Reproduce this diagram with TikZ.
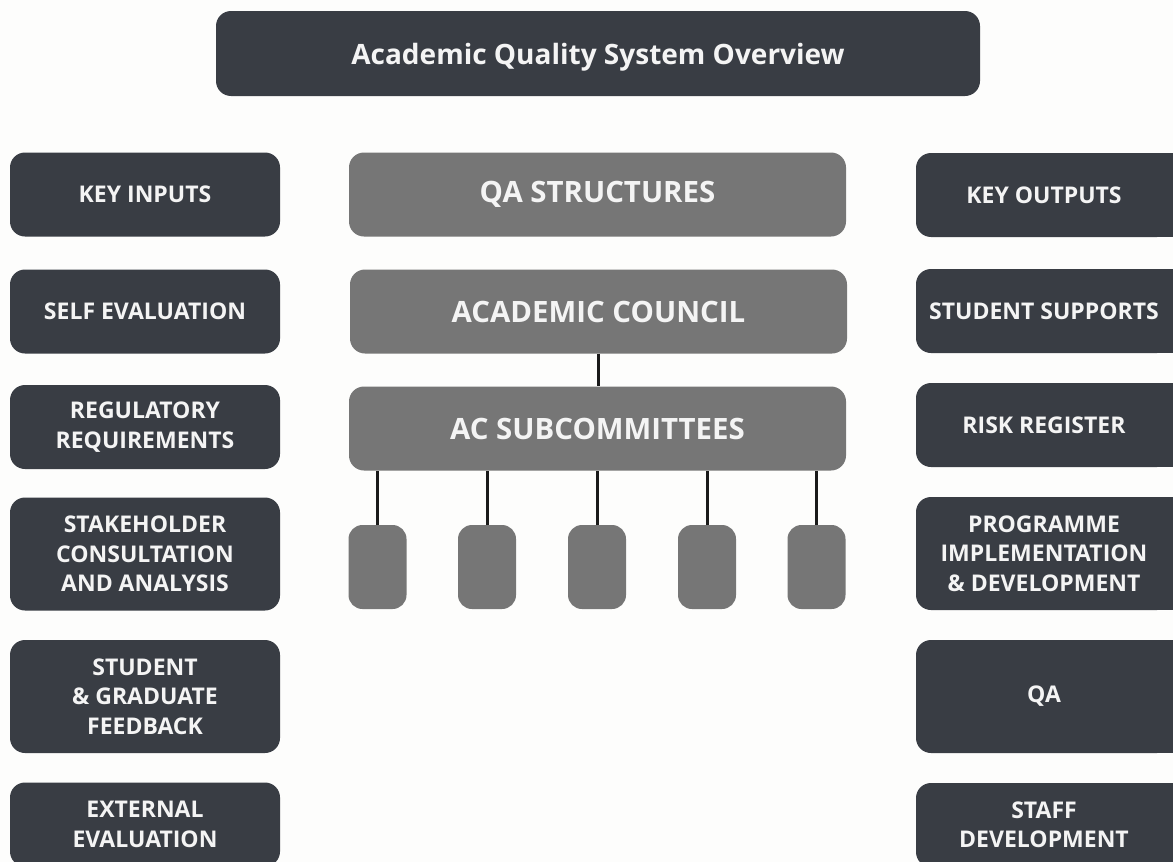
\documentclass[tikz,border=0pt]{standalone}
\usepackage{fontspec}
\setmainfont{Open Sans}
\definecolor{darkc}{HTML}{393D44}
\definecolor{grayc}{HTML}{767676}
\definecolor{txtc}{HTML}{F4F4F4}
\definecolor{bgc}{HTML}{FDFDFC}
\definecolor{linec}{HTML}{1A1A1A}
\begin{document}
\begin{tikzpicture}[x=1pt,y=-1pt,
  darkbox/.style={fill=darkc, rounded corners=15pt, text=txtc, align=center, inner sep=0pt,
    font=\bfseries\fontsize{23}{29.5}\selectfont},
  sidebox/.style={darkbox, minimum width=270pt, minimum height=84pt},
  sidetall/.style={darkbox, minimum width=270pt, minimum height=113pt},
  rightbox/.style={darkbox, minimum width=256pt, minimum height=84pt},
  righttall/.style={darkbox, minimum width=256pt, minimum height=113pt},
  graybox/.style={fill=grayc, rounded corners=15pt, text=txtc, inner sep=0pt,
    minimum width=497pt, minimum height=84pt, font=\bfseries\fontsize{29.4}{34}\selectfont},
  smallbox/.style={fill=grayc, rounded corners=14pt, inner sep=0pt, minimum width=58pt, minimum height=84pt},
  conn/.style={draw=linec, line width=3pt}]
\useasboundingbox (0,0) rectangle (1173,862);
\fill[bgc] (0,0) rectangle (1173,862);

% title
\node[darkbox, minimum width=764pt, minimum height=85pt, text depth=0pt, font=\bfseries\fontsize{28}{32}\selectfont] (title) at (598,53.5) {Academic Quality System Overview};

% left column
\node[sidebox] (ki) at (145,194.5) {KEY INPUTS};
\node[sidebox] (se) at (145,311.5) {SELF EVALUATION};
\node[sidebox] (rr) at (145,427) {REGULATORY\\REQUIREMENTS};
\node[sidetall] (sc) at (145,554) {STAKEHOLDER\\CONSULTATION\\AND ANALYSIS};
\node[sidetall] (sg) at (145,696.5) {STUDENT\\\& GRADUATE\\FEEDBACK};
\node[sidebox] (ee) at (145,824.5) {EXTERNAL\\EVALUATION};

% right column (running off the right edge)
\foreach \yy/\hh in {153/237, 269/353, 383/467, 497/610, 640/753, 783/867}
  \fill[darkc] (1140,\yy) rectangle (1185,\hh);
\node[rightbox] (ko) at (1044,195) {KEY OUTPUTS};
\node[rightbox] (ss) at (1044,311) {STUDENT SUPPORTS};
\node[rightbox] (rg) at (1044,425) {RISK REGISTER};
\node[righttall] (pi) at (1044,553.5) {PROGRAMME\\IMPLEMENTATION\\\& DEVELOPMENT};
\node[righttall] (qa) at (1044,696.5) {QA};
\node[rightbox] (sd) at (1044,825) {STAFF\\DEVELOPMENT};

% centre
\node[graybox] (qs) at (597.5,194.5) {QA STRUCTURES};
\node[graybox] (ac) at (598.5,311.5) {ACADEMIC COUNCIL};
\node[graybox] (sub) at (597.5,428.5) {AC SUBCOMMITTEES};
\draw[conn] (ac.south) -- (ac.south |- sub.north);

\foreach \i/\xx in {1/377.5, 2/487, 3/597, 4/707, 5/816.5} {
  \node[smallbox] (s\i) at (\xx,567) {};
  \draw[conn] (s\i.north) -- (s\i.north |- sub.south);
}
\end{tikzpicture}
\end{document}
